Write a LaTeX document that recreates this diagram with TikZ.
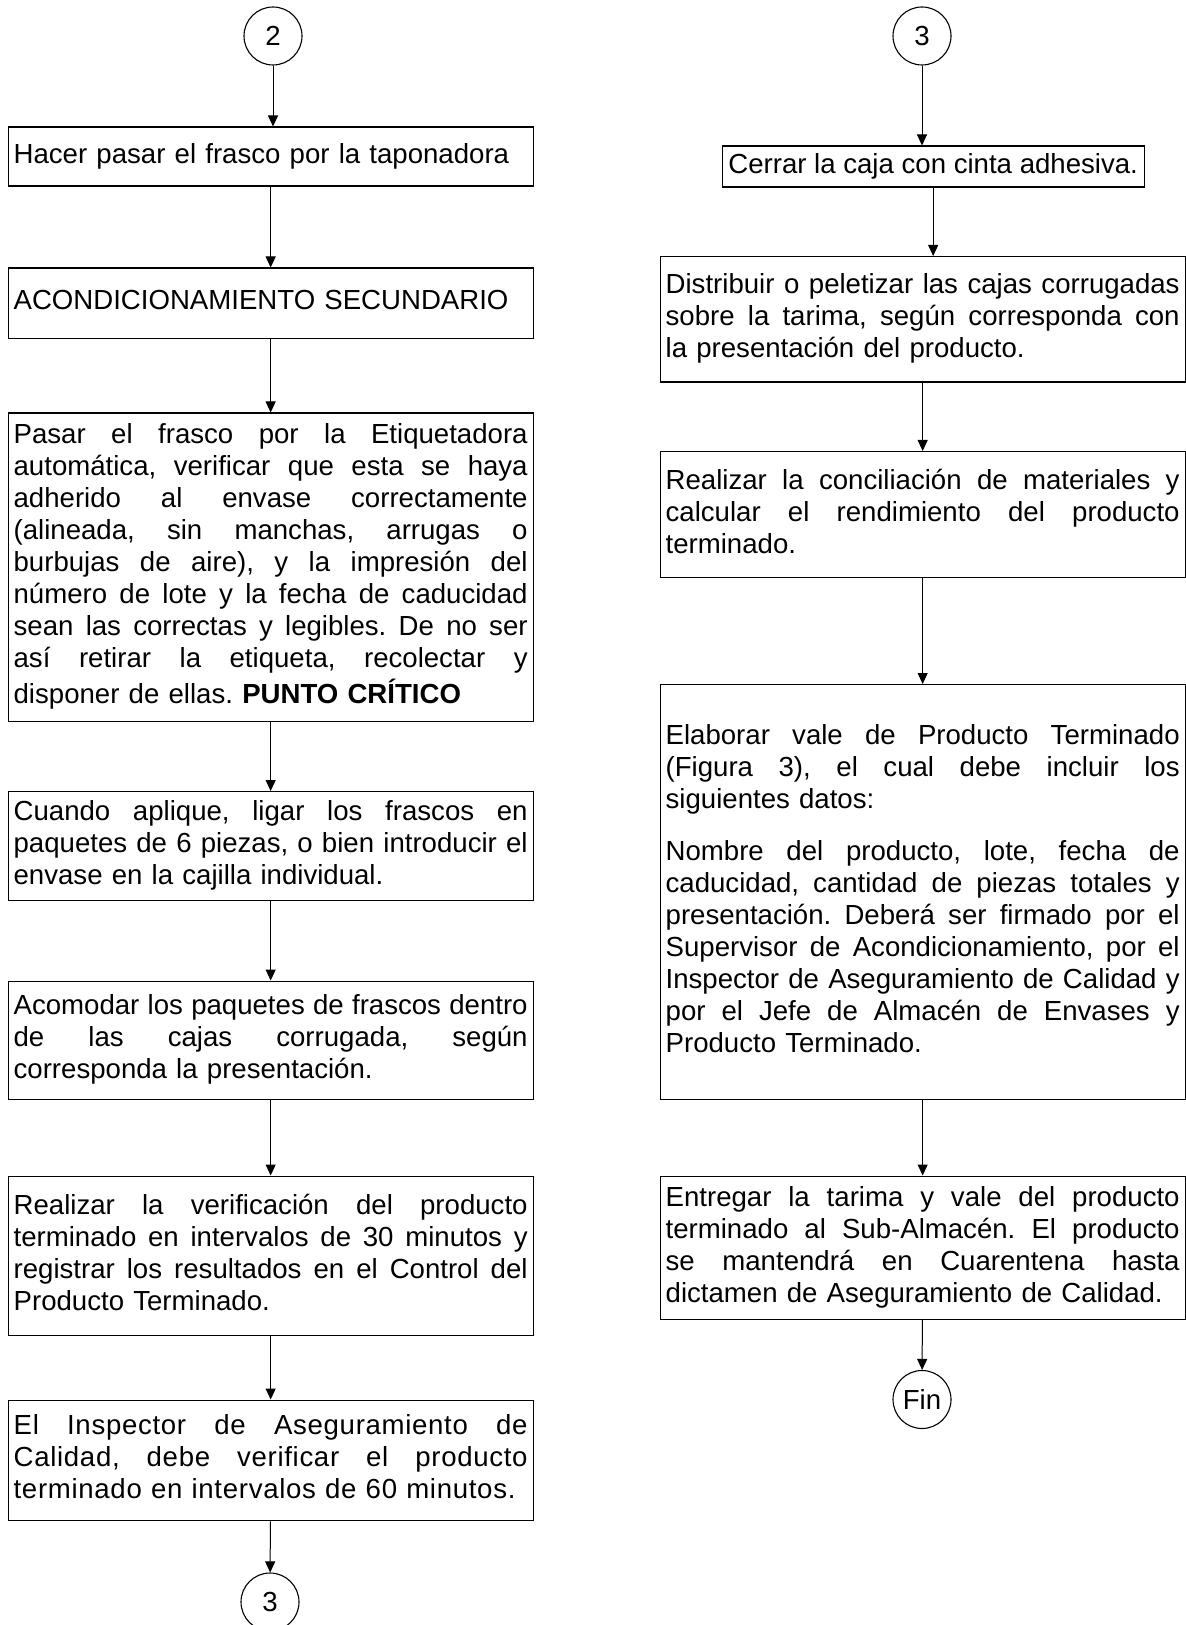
\documentclass[tikz,border=0pt]{standalone}
\usepackage{fontspec}
\setmainfont{Liberation Sans}
\usetikzlibrary{arrows.meta}
\newcommand\J[1]{\leavevmode\hbox to 257pt{\spaceskip=0.278em plus 1fil\relax\strut #1}}
\frenchspacing
\begin{document}
\begin{tikzpicture}[x=0.5pt,y=-0.5pt,
  txt/.style={font=\fontsize{13.8pt}{16pt}\selectfont},
  stepbox/.style={txt, draw, line width=0.65pt, anchor=north west, inner xsep=2.75pt, inner ysep=0pt, text width=257pt},
  shortbox/.style={txt, draw, line width=0.65pt, anchor=north west, inner xsep=2.5pt, inner ysep=0pt, minimum width=211pt},
  conn/.style={txt, draw, line width=0.55pt, circle, minimum size=29pt, inner sep=0pt},
  arr/.style={-{Triangle[length=5.5pt,width=5pt]}, line width=0.5pt}]
\useasboundingbox (0,0) rectangle (1185,1625);
% left column
\node[conn] (c2) at (273,36) {2};
\node[stepbox, minimum height=29.5pt] (b1) at (7.5,126.5) {\strut Hacer pasar el frasco por la taponadora};
\node[stepbox, minimum height=35.25pt] (b2) at (7.5,267.5) {\strut ACONDICIONAMIENTO SECUNDARIO};
\node[stepbox, minimum height=154pt] (b3) at (7.5,412.5) {\J{Pasar el frasco por la Etiquetadora}\\
\J{automática, verificar que esta se haya}\\
\J{adherido al envase correctamente}\\
\J{(alineada, sin manchas, arrugas o}\\
\J{burbujas de aire), y la impresión del}\\
\J{número de lote y la fecha de caducidad}\\
\J{sean las correctas y legibles. De no ser}\\
\J{así retirar la etiqueta, recolectar y}\\
\strut disponer de ellas. \textbf{PUNTO CRÍTICO}\\[8pt]};
\node[stepbox, minimum height=54.5pt] (b4) at (7.5,791) {\J{Cuando aplique, ligar los frascos en}\\
\J{paquetes de 6 piezas, o bien introducir el}\\
\strut envase en la cajilla individual.};
\node[stepbox, minimum height=59pt] (b5) at (7.5,980.5) {\J{Acomodar los paquetes de frascos dentro}\\
\J{de las cajas corrugada, según}\\
\strut corresponda la presentación.};
\node[stepbox, minimum height=79.75pt] (b6) at (7.5,1175.5) {\J{Realizar la verificación del producto}\\
\J{terminado en intervalos de 30 minutos y}\\
\J{registrar los resultados en el Control del}\\
\strut Producto Terminado.};
\node[stepbox, minimum height=60.25pt, font=\fontsize{13.8pt}{16pt}\selectfont\addfontfeature{LetterSpace=2.5}] (b7) at (7.5,1399.5) {\J{El Inspector de Aseguramiento de}\\
\J{Calidad, debe verificar el producto}\\
\strut terminado en intervalos de 60 minutos.};
\node[conn] (c3a) at (270,1602) {3};
% right column
\node[conn] (c3b) at (922,36) {3};
\node[shortbox, minimum height=20.5pt] (r1) at (721.5,145.5) {\strut Cerrar la caja con cinta adhesiva.};
\node[stepbox, minimum height=62.75pt] (r2) at (659.5,256) {\J{Distribuir o peletizar las cajas corrugadas}\\
\J{sobre la tarima, según corresponda con}\\
\strut la presentación del producto.};
\node[stepbox, minimum height=63pt] (r3) at (659.5,451) {\J{Realizar la conciliación de materiales y}\\
\J{calcular el rendimiento del producto}\\
\strut terminado.};
\node[stepbox, minimum height=207.5pt] (r4) at (659.5,684) {\J{Elaborar vale de Producto Terminado}\\
\J{(Figura 3), el cual debe incluir los}\\
\strut siguientes datos:\\[10pt]
\J{Nombre del producto, lote, fecha de}\\
\J{caducidad, cantidad de piezas totales y}\\
\J{presentación. Deberá ser firmado por el}\\
\J{Supervisor de Acondicionamiento, por el}\\
\J{Inspector de Aseguramiento de Calidad y}\\
\J{por el Jefe de Almacén de Envases y}\\
\strut Producto Terminado.};
\node[stepbox, minimum height=71.5pt] (r5) at (659.5,1175.5) {\J{Entregar la tarima y vale del producto}\\
\J{terminado al Sub-Almacén. El producto}\\
\J{se mantendrá en Cuarentena hasta}\\
\strut dictamen de Aseguramiento de Calidad.};
\node[conn] (fin) at (922,1399.5) {Fin};
% connectors
\draw[arr] (c2) -- (c2 |- b1.north);
\draw[arr] (b1) -- (b2);
\draw[arr] (b2) -- (b3);
\draw[arr] (b3) -- (b4);
\draw[arr] (b4) -- (b5);
\draw[arr] (b5) -- (b6);
\draw[arr] (b6) -- (b7);
\draw[arr] (b7) -- (c3a);
\draw[arr] (c3b) -- (c3b |- r1.north);
\draw[arr] (r1.south) -- (r1.south |- r2.north);
\draw[arr] (r2) -- (r3);
\draw[arr] (r3) -- (r4);
\draw[arr] (r4) -- (r5);
\draw[arr] (r5) -- (fin);
\end{tikzpicture}
\end{document}
